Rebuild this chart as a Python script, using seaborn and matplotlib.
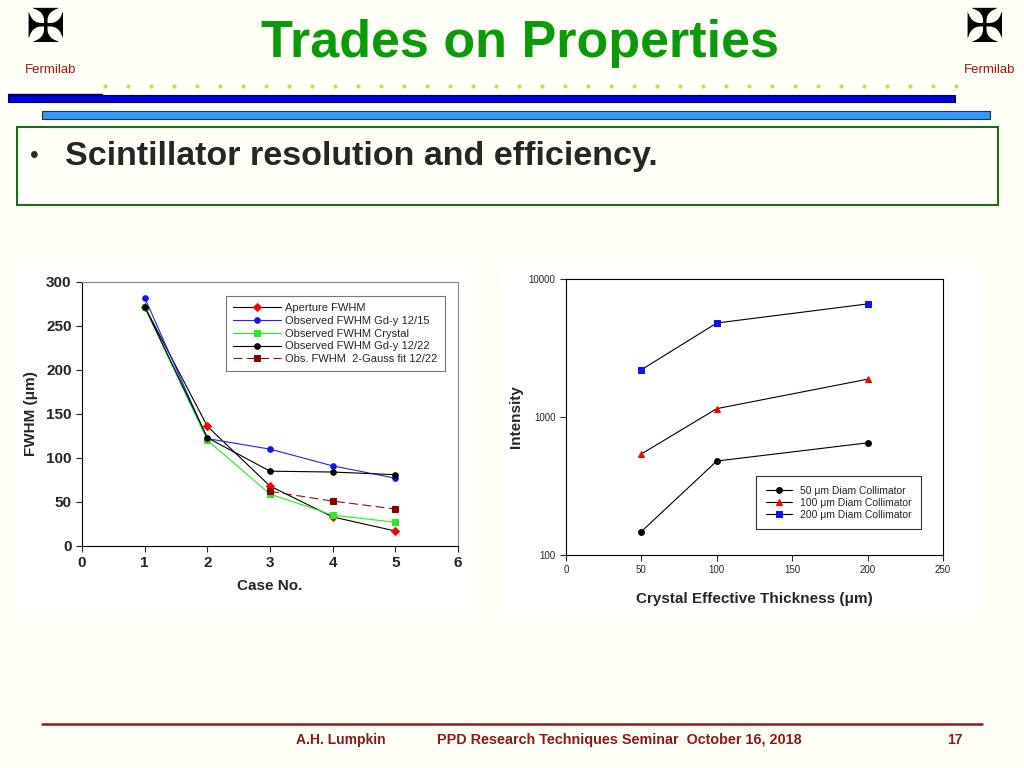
import matplotlib
matplotlib.use("Agg")
import matplotlib.pyplot as plt
from matplotlib.patches import Rectangle
from matplotlib.lines import Line2D
import seaborn as sns

sns.set_style("white")
plt.rcParams["font.family"] = ["Liberation Sans", "DejaVu Sans"]

# ---- data: left chart (FWHM vs case) ----
cases = [1, 2, 3, 4, 5]
aperture_fwhm = [272, 136, 68, 33, 17]
obs_gdy_1215 = [282, 122, 110, 91, 77]
obs_crystal = [271, 120, 59, 35, 27]
obs_gdy_1222 = [272, 123, 85, 84, 81]
gauss_cases = [3, 4, 5]
gauss_fit_1222 = [62, 51, 42]

# ---- data: right chart (intensity vs thickness) ----
thickness = [50, 100, 200]
coll_50 = [148, 480, 650]
coll_100 = [540, 1150, 1880]
coll_200 = [2200, 4800, 6600]

BG = "#FFFFF7"
fig = plt.figure(figsize=(10.24, 7.68), dpi=100, facecolor=BG)

def px(x, y):
    return x / 1024, 1 - y / 768

# ---- slide header ----
fig.text(*px(520, 43), "Trades on Properties", color="#0A9A0A", fontsize=37.5,
         fontweight="bold", ha="center", va="center")
for xc in (51, 990):
    fig.text(*px(xc, 70), "Fermilab", color="#B01010", fontsize=9.5,
             ha="center", va="center")
    fig.text(*px(xc - 6, 30), "\u2720", color="black", fontsize=34,
             ha="center", va="center")

dot_x = [105 + 23 * i for i in range(38)]
fig.add_artist(Line2D([x / 1024 for x in dot_x], [1 - 86 / 768] * len(dot_x),
                      ls="none", marker="o", ms=2, color="#C8DC50"))
fig.add_artist(Line2D([8 / 1024, 102 / 1024], [1 - 94 / 768] * 2, color="#000060", lw=1))
fig.add_artist(Rectangle(px(8, 102), 947 / 1024, 7 / 768, facecolor="#0000DD",
                         edgecolor="#000060", lw=0.8))
fig.add_artist(Rectangle(px(42, 119), 948 / 1024, 8 / 768, facecolor="#3399FF",
                         edgecolor="#1A3355", lw=0.8))
fig.add_artist(Rectangle(px(17, 205), 981 / 1024, 78 / 768, facecolor="none",
                         edgecolor="#1E6B1E", lw=1.5))
fig.text(*px(30, 156), "\u2022", fontsize=18, va="center")
fig.text(*px(65, 156), "Scintillator resolution and efficiency.", fontsize=24.5,
         fontweight="bold", va="center")

# ---- footer ----
fig.add_artist(Line2D([42 / 1024, 982 / 1024], [1 - 724 / 768] * 2, color="#8B1A1A", lw=1.8))
foot = dict(color="#8B1A1A", fontsize=10, fontweight="bold", va="center")
fig.text(*px(341, 740), "A.H. Lumpkin", ha="center", **foot)
fig.text(*px(619, 740), "PPD Research Techniques Seminar  October 16, 2018", ha="center",
         **{**foot, "fontsize": 10.4})
fig.text(*px(955, 740), "17", ha="center", **foot)

# white panels behind the charts
fig.add_artist(Rectangle(px(15, 612), 457 / 1024, 345 / 768, facecolor="white",
                         edgecolor="none", zorder=0))
fig.add_artist(Rectangle(px(500, 614), 478 / 1024, 352 / 768, facecolor="white",
                         edgecolor="none", zorder=0))

# ---- left chart ----
ax1 = fig.add_axes([0.0801, 0.2891, 0.3672, 0.3438])
ax1.set_facecolor("white")
sns.lineplot(x=cases, y=aperture_fwhm, ax=ax1, color="black", lw=0.8, marker="D",
             ms=4, mfc="red", mec="red", label="Aperture FWHM")
sns.lineplot(x=cases, y=obs_gdy_1215, ax=ax1, color="#2222EE", lw=0.8, marker="o",
             ms=4, mfc="#1010FF", mec="#1010FF", label="Observed FWHM Gd-y 12/15")
sns.lineplot(x=cases, y=obs_crystal, ax=ax1, color="#22EE22", lw=0.8, marker="s",
             ms=4, mfc="#22EE22", mec="#22EE22", label="Observed FWHM Crystal")
sns.lineplot(x=cases, y=obs_gdy_1222, ax=ax1, color="black", lw=0.8, marker="o",
             ms=4, mfc="black", mec="black", label="Observed FWHM Gd-y 12/22")
sns.lineplot(x=gauss_cases, y=gauss_fit_1222, ax=ax1, color="#8B1010", lw=0.8,
             ls=(0, (8, 4)), marker="s", ms=4, mfc="#8B0000", mec="#8B0000",
             label="Obs. FWHM  2-Gauss fit 12/22")
ax1.set_xlim(0, 6)
ax1.set_ylim(0, 300)
ax1.set_xticks(range(0, 7))
ax1.set_yticks(range(0, 301, 50))
ax1.tick_params(direction="out", length=4, width=0.8, labelsize=11, bottom=True, left=True)
for lab in ax1.get_xticklabels() + ax1.get_yticklabels():
    lab.set_fontweight("bold")
ax1.set_xlabel("Case No.", fontsize=11, fontweight="bold", labelpad=6)
ax1.set_ylabel("FWHM (\u03bcm)", fontsize=11, fontweight="bold", labelpad=6)
for side in ("left", "bottom"):
    ax1.spines[side].set_color("black")
for side in ("top", "right"):
    ax1.spines[side].set_color("#888888")
for s in ax1.spines.values():
    s.set_linewidth(0.8)
leg1 = ax1.legend(loc="upper right", bbox_to_anchor=(0.965, 0.947), borderaxespad=0,
                  fontsize=8, fancybox=False, frameon=True, edgecolor="#555555",
                  handlelength=4.3, borderpad=0.65, labelspacing=0.25, handletextpad=0.4)
leg1.get_frame().set_linewidth(0.8)

# ---- right chart ----
ax2 = fig.add_axes([0.5527, 0.2773, 0.3682, 0.3594])
ax2.set_facecolor("white")
sns.lineplot(x=thickness, y=coll_50, ax=ax2, color="black", lw=0.8, marker="o",
             ms=4.2, mfc="black", mec="black", label="50 \u03bcm Diam Collimator")
sns.lineplot(x=thickness, y=coll_100, ax=ax2, color="black", lw=0.8, marker="^",
             ms=5, mfc="red", mec="red", label="100 \u03bcm Diam Collimator")
sns.lineplot(x=thickness, y=coll_200, ax=ax2, color="black", lw=0.8, marker="s",
             ms=4.5, mfc="#1010FF", mec="#1010FF", label="200 \u03bcm Diam Collimator")
ax2.set_yscale("log")
ax2.set_xlim(0, 250)
ax2.set_ylim(100, 10000)
ax2.set_xticks(range(0, 251, 50))
ax2.set_yticks([100, 1000, 10000])
ax2.set_yticklabels(["100", "1000", "10000"])
ax2.minorticks_off()
ax2.tick_params(direction="out", length=4, width=0.8, labelsize=7, bottom=True, left=True)
ax2.set_xlabel("Crystal Effective Thickness (\u03bcm)", fontsize=11, fontweight="bold", labelpad=12)
ax2.set_ylabel("Intensity", fontsize=11, fontweight="bold", labelpad=4)
for s in ax2.spines.values():
    s.set_color("black")
    s.set_linewidth(0.8)
leg2 = ax2.legend(loc="lower right", bbox_to_anchor=(0.9416, 0.094), borderaxespad=0,
                  fontsize=7.5, fancybox=False, frameon=True, edgecolor="black",
                  handlelength=2.5, borderpad=0.9, labelspacing=0.2, handletextpad=0.8)
leg2.get_frame().set_linewidth(0.8)

fig.savefig("out.png", dpi=100, facecolor=BG)
